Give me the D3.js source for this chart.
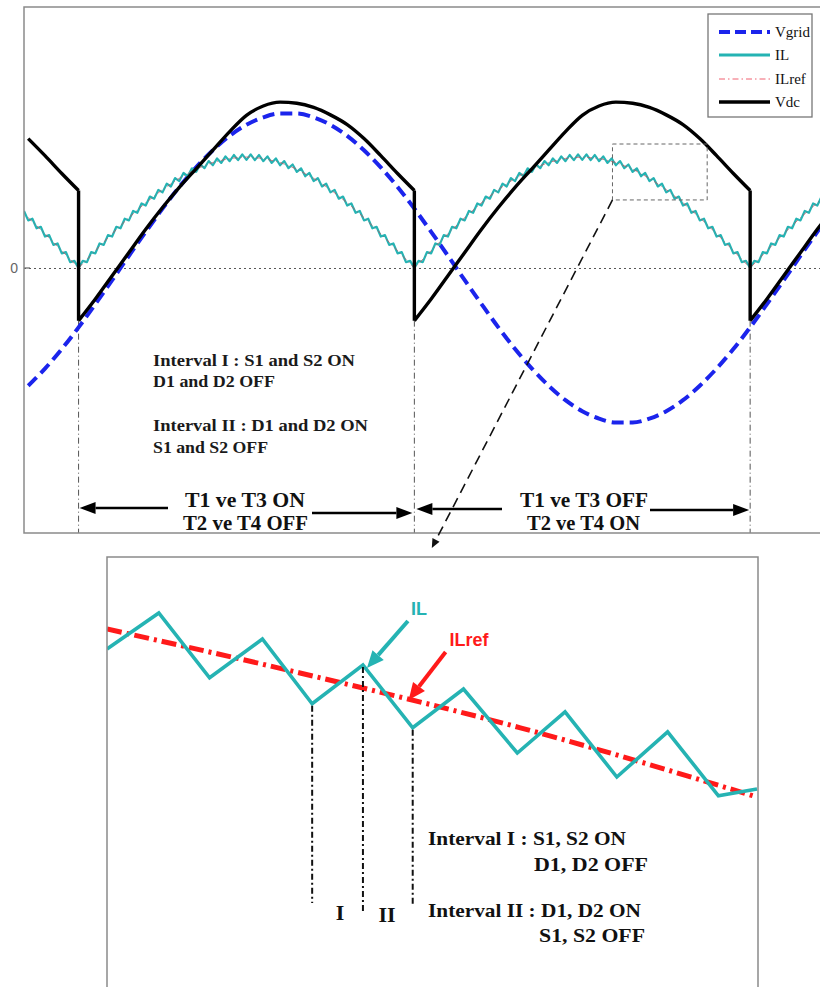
<!DOCTYPE html>
<html><head><meta charset="utf-8">
<script src="https://cdn.jsdelivr.net/npm/d3@7"></script>
<style>body{margin:0;background:#fff}svg{display:block}</style>
</head><body><svg id="c" width="820" height="987"></svg>
<script>
// ================= DATA (top panel: time in ms, values normalised to grid peak) =================
const gridTime = [-1.5,-1,-0.5,0,0.5,1,1.5,2,2.5,3,3.5,4,4.5,5,5.5,6,6.5,7,7.5,8,8.5,9,9.5,10,
  10.5,11,11.5,12,12.5,13,13.5,14,14.5,15,15.5,16,16.5,17,17.5,18,18.5,19,19.5,20,20.5,21,21.5,22,22.5];
const vgrid = [-0.760,-0.649,-0.523,-0.383,-0.233,-0.079,0.079,0.233,0.383,0.523,0.649,0.760,0.853,0.924,0.972,0.997,
  0.997,0.972,0.924,0.853,0.760,0.649,0.523,0.383,0.233,0.079,-0.079,-0.233,-0.383,-0.523,-0.649,-0.760,-0.853,-0.924,
  -0.972,-0.997,-0.997,-0.972,-0.924,-0.853,-0.760,-0.649,-0.523,-0.383,-0.233,-0.079,0.079,0.233,0.383];
const ilrefTop = [0.325,0.221,0.112,0,0.112,0.221,0.325,0.421,0.506,0.579,0.638,0.681,0.707,0.716,0.707,0.681,0.638,
  0.579,0.506,0.421,0.325,0.221,0.112,0,0.112,0.221,0.325,0.421,0.506,0.579,0.638,0.681,0.707,0.716,0.707,0.681,0.638,
  0.579,0.506,0.421,0.325,0.221,0.112,0,0.112,0.221,0.325,0.421,0.506];
const vdcTime = [-1.5,-1,-0.5,0,0,0.5,1,1.5,2,2.5,3,3.5,4,4.5,5,5.5,6,6.5,7,7.5,8,8.5,9,9.5,10,
  10,10.5,11,11.5,12,12.5,13,13.5,14,14.5,15,15.5,16,16.5,17,17.5,18,18.5,19,19.5,20,
  20,20.5,21,21.5,22,22.5];
const vdc = [0.835,0.725,0.61,0.50,-0.34,-0.20,-0.05,0.10,0.25,0.39,0.52,0.64,0.76,0.88,0.985,1.045,1.07,1.063,1.036,
  0.988,0.925,0.835,0.725,0.61,0.50,
  -0.34,-0.20,-0.05,0.10,0.25,0.39,0.52,0.64,0.76,0.88,0.985,1.045,1.07,1.063,1.036,0.988,0.925,0.835,0.725,0.61,0.50,
  -0.34,-0.20,-0.05,0.10,0.25,0.39];
// inductor current samples with switching ripple, every 0.125 ms starting at -1.625 ms
const ilStart = -1.625, ilStep = 0.125;
const ilValues = [0.368,0.307,0.318,0.256,0.266,0.203,0.212,0.149,0.158,0.094,0.102,0.038,0.046,
  0,0.046,0.038,0.102,0.094,0.158,0.149,0.212,0.203,0.266,0.256,0.318,0.307,0.368,0.356,0.416,0.403,0.461,0.447,0.504,
  0.488,0.544,0.526,0.580,0.561,0.613,0.592,0.643,0.620,0.668,0.644,0.690,0.663,0.707,0.678,0.720,0.689,0.729,0.696,
  0.733,0.698,0.733,0.696,0.729,0.689,0.720,0.678,0.707,0.663,0.690,0.644,0.668,0.620,0.643,0.592,0.613,0.561,0.580,
  0.526,0.544,0.488,0.504,0.447,0.461,0.403,0.416,0.356,0.368,0.307,0.318,0.256,0.266,0.203,0.212,0.149,0.158,0.094,
  0.102,0.038,0.046,0,
  0.046,0.038,0.102,0.094,0.158,0.149,0.212,0.203,0.266,0.256,0.318,0.307,0.368,0.356,0.416,0.403,0.461,0.447,0.504,
  0.488,0.544,0.526,0.580,0.561,0.613,0.592,0.643,0.620,0.668,0.644,0.690,0.663,0.707,0.678,0.720,0.689,0.729,0.696,
  0.733,0.698,0.733,0.696,0.729,0.689,0.720,0.678,0.707,0.663,0.690,0.644,0.668,0.620,0.643,0.592,0.613,0.561,0.580,
  0.526,0.544,0.488,0.504,0.447,0.461,0.403,0.416,0.356,0.368,0.307,0.318,0.256,0.266,0.203,0.212,0.149,0.158,0.094,
  0.102,0.038,0.046,0,
  0.046,0.038,0.102,0.094,0.158,0.149,0.212,0.203,0.266,0.256,0.318,0.307,0.368,0.356,0.416,0.403,0.461];
const switchTimes = [0, 10, 20];          // ms, where Vdc polarity is switched
const zoomWindow = {t0: 15.9, t1: 18.72, v0: 0.439, v1: 0.80};
const yTicks = [0];
const legendNames = ["Vgrid","IL","ILref","Vdc"];
const topNotes = ["Interval I : S1 and S2 ON","D1 and D2 OFF","Interval II : D1 and D2 ON","S1 and S2 OFF"];
const stateLabels = [["T1 ve T3  ON","T2 ve T4 OFF"],["T1 ve T3 OFF","T2 ve T4 ON"]];

// ================= DATA (bottom panel: time in µs, current in A) =================
const zTime = [0,51,101,153,202,252,301,351,404,451,502,552,602,640];
const zIL = [8.45,9.35,7.73,8.70,7.08,8.05,6.48,7.45,5.85,6.88,5.25,6.38,4.78,4.95];
const zRefTime = [0,190,407,640];
const zRef = [8.95,7.85,6.48,4.75];
const markerIdx = [4,5,6];
const markerEnd = [2.1,1.875,2.05];
const intervalMarks = ["I","II"];
const bottomNotes = ["Interval I : S1, S2 ON","D1, D2 OFF","Interval II : D1, D2 ON","S1, S2 OFF"];

// ================= DRAW =================
const svg = d3.select("#c");
const SERIF = "'Liberation Serif','Times New Roman',serif";
const SANS = "'Liberation Sans',Arial,sans-serif";
const C_GRID = "#1b24ec", C_IL = "#25b3b3", C_REF = "#ff1a1a", C_BLACK = "#000";

const x = d3.scaleLinear().domain([-1.625, 22.08]).range([24, 820]);
const y = d3.scaleLinear().domain([-1.71, 1.684]).range([533, 7]);

svg.append("defs").append("clipPath").attr("id","clipTop")
  .append("rect").attr("x",24).attr("y",7).attr("width",796).attr("height",526);

// zero axis with dotted grid line
const ax = svg.append("g").attr("transform","translate(24,0)")
  .call(d3.axisLeft(y).tickValues(yTicks).tickSize(-796).tickPadding(6).tickFormat(d3.format("d")));
ax.select(".domain").remove();
ax.selectAll("line").attr("stroke","#555").attr("stroke-width",1).attr("stroke-dasharray","2,3");
ax.selectAll("text").attr("fill","#666").style("font-family",SANS).style("font-size","14px");
svg.append("line").attr("x1",24).attr("x2",30).attr("y1",y(0)).attr("y2",y(0)).attr("stroke","#666").attr("stroke-width",1.2);

// vertical dash-dot lines at switching instants
svg.append("g").selectAll("line").data(switchTimes).join("line")
  .attr("x1",d=>x(d)).attr("x2",d=>x(d)).attr("y1",y(vdc[4])).attr("y2",533)
  .attr("stroke","#555").attr("stroke-width",1).attr("stroke-dasharray","6,3,1,3");

const plot = svg.append("g").attr("clip-path","url(#clipTop)");

// Vgrid
plot.append("path").datum(gridTime.map((t,i)=>[t,vgrid[i]]))
  .attr("d", d3.line().x(d=>x(d[0])).y(d=>y(d[1])).curve(d3.curveMonotoneX))
  .attr("fill","none").attr("stroke",C_GRID).attr("stroke-width",4).attr("stroke-dasharray","12,6");

// IL
plot.append("path").datum(ilValues.map((v,i)=>[ilStart+i*ilStep, v]))
  .attr("d", d3.line().x(d=>x(d[0])).y(d=>y(d[1])))
  .attr("fill","none").attr("stroke",C_IL).attr("stroke-width",2.2).attr("stroke-linejoin","round");

// ILref (thin)
plot.append("path").datum(gridTime.map((t,i)=>[t,ilrefTop[i]]))
  .attr("d", d3.line().x(d=>x(d[0])).y(d=>y(d[1])))
  .attr("fill","none").attr("stroke","#c0505a").attr("stroke-width",0.9).attr("stroke-dasharray","5,3,1,3").attr("opacity",0.8);

// Vdc: smooth segments between polarity switches + vertical jumps
const vdcPts = vdcTime.map((t,i)=>[t,vdc[i]]);
const segs = [[]];
vdcPts.forEach((p,i)=>{
  if(i>0 && p[0]===vdcPts[i-1][0]) segs.push([]);
  segs[segs.length-1].push(p);
});
const vdcLine = d3.line().x(d=>x(d[0])).y(d=>y(d[1])).curve(d3.curveMonotoneX);
let dStr = "";
segs.forEach(s=>{ dStr += vdcLine(s); });
const jumpLine = d3.line().x(d=>x(d[0])).y(d=>y(d[1]));
vdcPts.forEach((p,i)=>{ if(i>0 && p[0]===vdcPts[i-1][0]) dStr += jumpLine([vdcPts[i-1],p]); });
plot.append("path").attr("d",dStr).attr("fill","none").attr("stroke",C_BLACK)
  .attr("stroke-width",3.4).attr("stroke-linejoin","round");

// frame of top panel
svg.append("path").attr("d","M820,7H24V533H820").attr("fill","none").attr("stroke","#8a8a8a").attr("stroke-width",1.5);

// legend
const lg = svg.append("g");
lg.append("rect").attr("x",708).attr("y",14).attr("width",104).attr("height",103)
  .attr("fill","#fff").attr("stroke","#777").attr("stroke-width",1.3);
const lgY = [32,55,79,102];
const lgStyle = [
  {c:C_GRID,w:4,da:"11,5"},{c:C_IL,w:3,da:null},{c:"#f06070",w:1,da:"6,3,1.5,3"},{c:C_BLACK,w:3.5,da:null}];
legendNames.forEach((n,i)=>{
  lg.append("line").attr("x1",719).attr("x2",770).attr("y1",lgY[i]).attr("y2",lgY[i])
    .attr("stroke",lgStyle[i].c).attr("stroke-width",lgStyle[i].w).attr("stroke-dasharray",lgStyle[i].da);
  lg.append("text").attr("x",775).attr("y",lgY[i]+5).text(n)
    .style("font-family",SERIF).style("font-size","15px").attr("fill","#111");
});

// interval notes (top)
const tnY = [366,387,431,453], tnW = [202,122,215,115];
topNotes.forEach((s,i)=>{
  svg.append("text").attr("x",153).attr("y",tnY[i]).text(s)
    .attr("textLength",tnW[i]).attr("lengthAdjust","spacingAndGlyphs")
    .style("font-family",SERIF).style("font-weight","bold").style("font-size","16px").attr("fill","#1a1a1a");
});

// arrow helper
function arrow(g,x1,y1,x2,y2,len,hw,color,width,dash){
  const a = Math.atan2(y2-y1,x2-x1);
  const bx = x2-len*Math.cos(a), by = y2-len*Math.sin(a);
  g.append("line").attr("x1",x1).attr("y1",y1).attr("x2",bx).attr("y2",by)
    .attr("stroke",color).attr("stroke-width",width).attr("stroke-dasharray",dash||null);
  g.append("path").attr("d",`M${x2},${y2}L${bx+hw*Math.sin(a)},${by-hw*Math.cos(a)}L${bx-hw*Math.sin(a)},${by+hw*Math.cos(a)}Z`)
    .attr("fill",color);
}

// state arrows (top)
const sa = svg.append("g");
arrow(sa, 168, 508, x(switchTimes[0])+1, 508, 16, 6, C_BLACK, 2.6);
arrow(sa, 312, 513, x(switchTimes[1])-2, 513, 16, 6, C_BLACK, 2.6);
arrow(sa, 502, 509, x(switchTimes[1])+2, 509, 16, 6, C_BLACK, 2.6);
arrow(sa, 650, 510, x(switchTimes[2])-1, 510, 16, 6, C_BLACK, 2.6);
const stX = [[185,183],[520,527]], stY = [507,530], stW = [[120,125],[128,113]];
stateLabels.forEach((pair,j)=>pair.forEach((s,k)=>{
  svg.append("text").attr("x",stX[j][k]).attr("y",stY[k]).text(s)
    .attr("textLength",stW[j][k]).attr("lengthAdjust","spacingAndGlyphs")
    .style("font-family",SERIF).style("font-weight","bold").style("font-size","20px").attr("fill","#111");
}));

// zoom window + pointer
svg.append("rect").attr("x",x(zoomWindow.t0)).attr("y",y(zoomWindow.v1))
  .attr("width",x(zoomWindow.t1)-x(zoomWindow.t0)).attr("height",y(zoomWindow.v0)-y(zoomWindow.v1))
  .attr("fill","none").attr("stroke","#666").attr("stroke-width",1).attr("stroke-dasharray","4,3");
arrow(svg, x(zoomWindow.t0), y(zoomWindow.v0), x(10.52), y(-1.806), 9, 4, "#111", 1.6, "10,6");

// ================= BOTTOM PANEL =================
const xb = d3.scaleLinear().domain([0,640]).range([107,757]);
const yb = d3.scaleLinear().domain([0,10.75]).range([987,557]);
svg.append("defs").append("clipPath").attr("id","clipBot")
  .append("rect").attr("x",107).attr("y",557).attr("width",651).attr("height",430);

const bp = svg.append("g").attr("clip-path","url(#clipBot)");
bp.append("path").datum(zRefTime.map((t,i)=>[t,zRef[i]]))
  .attr("d", d3.line().x(d=>xb(d[0])).y(d=>yb(d[1])).curve(d3.curveMonotoneX))
  .attr("fill","none").attr("stroke",C_REF).attr("stroke-width",5).attr("stroke-dasharray","15,5,3,5");
bp.append("path").datum(zTime.map((t,i)=>[t,zIL[i]]))
  .attr("d", d3.line().x(d=>xb(d[0])).y(d=>yb(d[1])))
  .attr("fill","none").attr("stroke",C_IL).attr("stroke-width",3.6).attr("stroke-linejoin","miter");

// marker lines
svg.append("g").selectAll("line").data(markerIdx).join("line")
  .attr("x1",d=>xb(zTime[d])).attr("x2",d=>xb(zTime[d]))
  .attr("y1",d=>yb(zIL[d])+2).attr("y2",(d,i)=>yb(markerEnd[i]))
  .attr("stroke","#111").attr("stroke-width",2).attr("stroke-dasharray","6,3,2,3");
const imX = [340,387], imY = [920,922];
intervalMarks.forEach((s,i)=>{
  svg.append("text").attr("x",imX[i]).attr("y",imY[i]).attr("text-anchor","middle").text(s)
    .style("font-family",SERIF).style("font-weight","bold").style("font-size","22px").attr("fill","#111");
});

// bottom notes
const bnX = [428,534,428,539], bnY = [845,871,917,942], bnW = [198,114,213,106];
bottomNotes.forEach((s,i)=>{
  svg.append("text").attr("x",bnX[i]).attr("y",bnY[i]).text(s)
    .attr("textLength",bnW[i]).attr("lengthAdjust","spacingAndGlyphs")
    .style("font-family",SERIF).style("font-weight","bold").style("font-size","19px").attr("fill","#111");
});

// IL / ILref callouts
const pk = [xb(zTime[5]), yb(zIL[5])];
arrow(svg, pk[0]+45, pk[1]-44, pk[0]+4, pk[1]+3, 17, 7.5, C_IL, 4);
svg.append("text").attr("x",419).attr("y",615).attr("text-anchor","middle").text("IL")
  .style("font-family",SANS).style("font-weight","bold").style("font-size","18px").attr("fill",C_IL);
const rt = 296, rv = 7.2;
arrow(svg, xb(rt)+38, yb(rv)-47, xb(rt)+1, yb(rv)+1, 17, 7.5, C_REF, 4);
svg.append("text").attr("x",469).attr("y",646).attr("text-anchor","middle").text("ILref")
  .style("font-family",SANS).style("font-weight","bold").style("font-size","18px").attr("fill",C_REF);

// bottom frame
svg.append("path").attr("d","M107,987V557H758V987").attr("fill","none").attr("stroke","#8a8a8a").attr("stroke-width",1.5);
</script></body></html>
